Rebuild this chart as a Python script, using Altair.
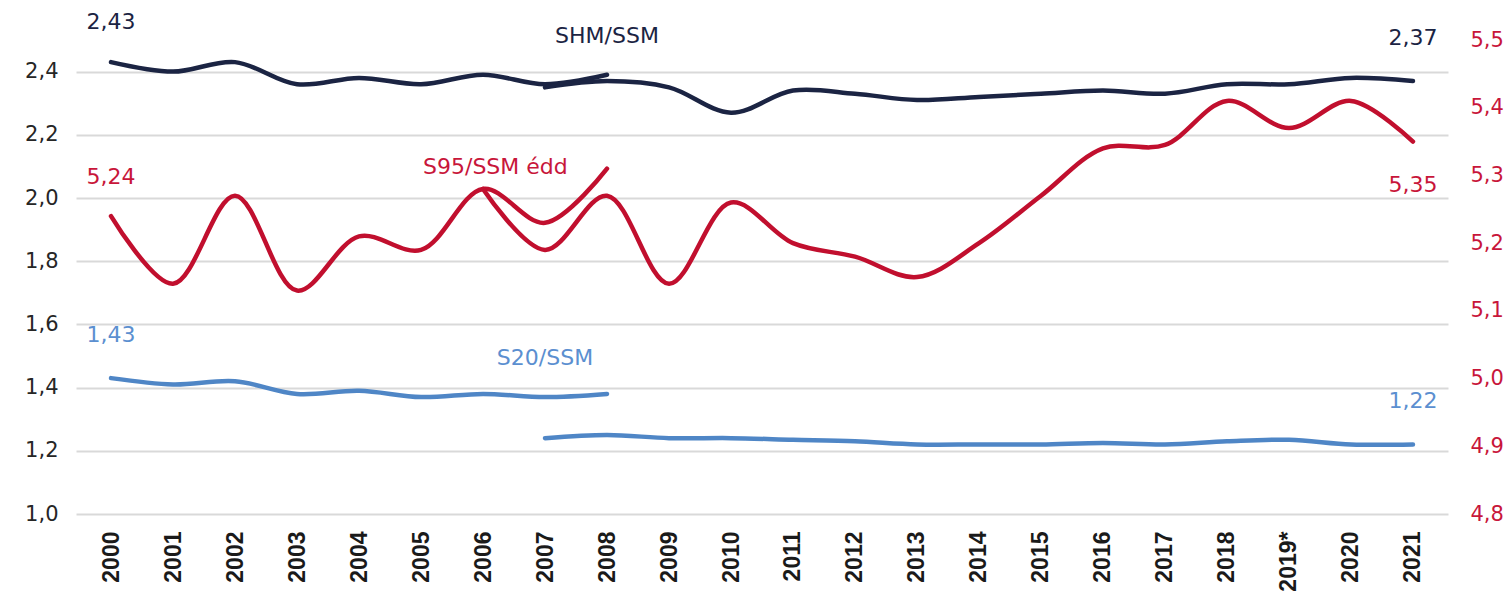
import altair as alt
import pandas as pd

# ---------------- data ----------------
years = ["2000", "2001", "2002", "2003", "2004", "2005", "2006", "2007", "2008",
         "2009", "2010", "2011", "2012", "2013", "2014", "2015", "2016", "2017",
         "2018", "2019*", "2020", "2021"]

# SHM/SSM (left axis) – old method 2000-2008, new method 2007-2021
shm_old = [2.43, 2.40, 2.43, 2.36, 2.38, 2.36, 2.39, 2.36, 2.39]
shm_new = [2.35, 2.37, 2.35, 2.27, 2.34, 2.33, 2.31, 2.32, 2.33, 2.34, 2.33,
           2.36, 2.36, 2.38, 2.37]

# S20/SSM (left axis)
s20_old = [1.43, 1.41, 1.42, 1.38, 1.39, 1.37, 1.38, 1.37, 1.38]
s20_new = [1.24, 1.25, 1.24, 1.24, 1.235, 1.23, 1.22, 1.22, 1.22, 1.225, 1.22,
           1.23, 1.235, 1.22, 1.22]

# S95/SSM édd (right axis) – old 2000-2008, new 2006-2021
s95_old = [5.24, 5.14, 5.27, 5.13, 5.21, 5.19, 5.28, 5.23, 5.31]
s95_new = [5.28, 5.19, 5.27, 5.14, 5.26, 5.20, 5.18, 5.15, 5.20, 5.27, 5.34,
           5.345, 5.41, 5.37, 5.41, 5.35]

# annotations (text, year, value)
left_text = ["2,43", "2,37", "SHM/SSM", "1,43", "S20/SSM", "1,22"]
left_text_year = ["2000", "2021", "2008", "2000", "2007", "2021"]
left_text_val = [2.558, 2.505, 2.514, 1.567, 1.494, 1.358]
left_text_series = ["SHM_a", "SHM_a", "SHM_a", "S20_t", "S20_t", "S20_t"]

right_text = ["5,24", "5,35"]
right_text_year = ["2000", "2021"]
right_text_val = [5.298, 5.286]
s95_name = "S95/SSM édd"
s95_name_year = "2005"
s95_name_val = 5.313

left_ticks = [1.0, 1.2, 1.4, 1.6, 1.8, 2.0, 2.2, 2.4]
right_ticks = [4.8, 4.9, 5.0, 5.1, 5.2, 5.3, 5.4, 5.5]

# ---------------- styling ----------------
NAVY = "#1b2443"
RED = "#c10f2e"
BLUE = "#4f86c6"
BLUE_T = "#5b8fd0"
RED_T = "#c8163a"

color_scale = alt.Scale(
    domain=["SHM_a", "SHM_b", "S20_a", "S20_b", "S95_a", "S95_b", "S20_t", "S95_t"],
    range=[NAVY, NAVY, BLUE, BLUE, RED, RED, BLUE_T, RED_T],
)


def rows(series, yrs, vals):
    return [{"year": y, "value": v, "series": series} for y, v in zip(yrs, vals)]


left_df = pd.DataFrame(
    rows("SHM_a", years[:9], shm_old)
    + rows("SHM_b", years[7:], shm_new)
    + rows("S20_a", years[:9], s20_old)
    + rows("S20_b", years[7:], s20_new)
)
right_df = pd.DataFrame(
    rows("S95_a", years[:9], s95_old) + rows("S95_b", years[6:], s95_new)
)
left_txt_df = pd.DataFrame({"year": left_text_year, "value": left_text_val,
                            "label": left_text, "series": left_text_series})
right_txt_df = pd.DataFrame({"year": right_text_year, "value": right_text_val,
                             "label": right_text, "series": ["S95_t"] * 2})
name_df = pd.DataFrame({"year": [s95_name_year], "value": [s95_name_val],
                        "label": [s95_name], "series": ["S95_t"]})

x_enc = alt.X(
    "year:O", sort=years,
    scale=alt.Scale(type="point", padding=0.565),
    axis=alt.Axis(title=None, labelAngle=-90, labelFont="Liberation Sans",
                  labelFontSize=23, labelFontWeight="bold", labelColor="#1a1a1a",
                  labelPadding=17, ticks=False, domain=False, grid=False),
)

label_expr = "replace(format(datum.value, '.1f'), '.', ',')"
y_left = alt.Y("value:Q", scale=alt.Scale(domain=[1.0, 2.5], nice=False, zero=False),
               axis=alt.Axis(title=None, orient="left", values=left_ticks,
                             labelExpr=label_expr,
                             labelFont="DejaVu Sans", labelFontSize=21,
                             labelColor="#262626", labelPadding=18,
                             ticks=False, domain=False, grid=True,
                             gridColor="#d9d9d9", gridWidth=2))
y_right = alt.Y("value:Q", scale=alt.Scale(domain=[4.8, 5.5], nice=False, zero=False),
                axis=alt.Axis(title=None, orient="right", values=right_ticks,
                              labelExpr=label_expr,
                              labelFont="DejaVu Sans", labelFontSize=21,
                              labelColor=RED_T, labelPadding=22,
                              ticks=False, domain=False, grid=False))
col = alt.Color("series:N", scale=color_scale, legend=None)

left_lines = alt.Chart(left_df).mark_line(
    interpolate="catmull-rom", strokeWidth=4.5, strokeCap="round"
).encode(x=x_enc, y=y_left, color=col, detail="series:N")

left_texts = alt.Chart(left_txt_df).mark_text(
    font="DejaVu Sans", fontSize=22, align="center", baseline="middle"
).encode(x=x_enc, y=y_left, text="label:N", color=col)

right_lines = alt.Chart(right_df).mark_line(
    interpolate="catmull-rom", strokeWidth=4.5, strokeCap="round"
).encode(x=x_enc, y=y_right, color=col, detail="series:N")

right_texts = alt.Chart(right_txt_df).mark_text(
    font="DejaVu Sans", fontSize=22, align="center", baseline="middle"
).encode(x=x_enc, y=y_right, text="label:N", color=col)

name_text = alt.Chart(name_df).mark_text(
    font="DejaVu Sans", fontSize=22, align="left", baseline="middle", dx=2
).encode(x=x_enc, y=y_right, text="label:N", color=col)

left = alt.layer(left_lines, left_texts)
right = alt.layer(right_lines, right_texts, name_text)

chart = alt.layer(left, right).resolve_scale(y="independent").properties(
    width=1372, height=474,
    autosize=alt.AutoSizeParams(type="none"),
    padding={"left": 68, "top": 32, "right": 56, "bottom": 79},
    background="white",
).configure_view(stroke=None)

chart.save("out.html", embed_options={"renderer": "svg", "actions": False})
